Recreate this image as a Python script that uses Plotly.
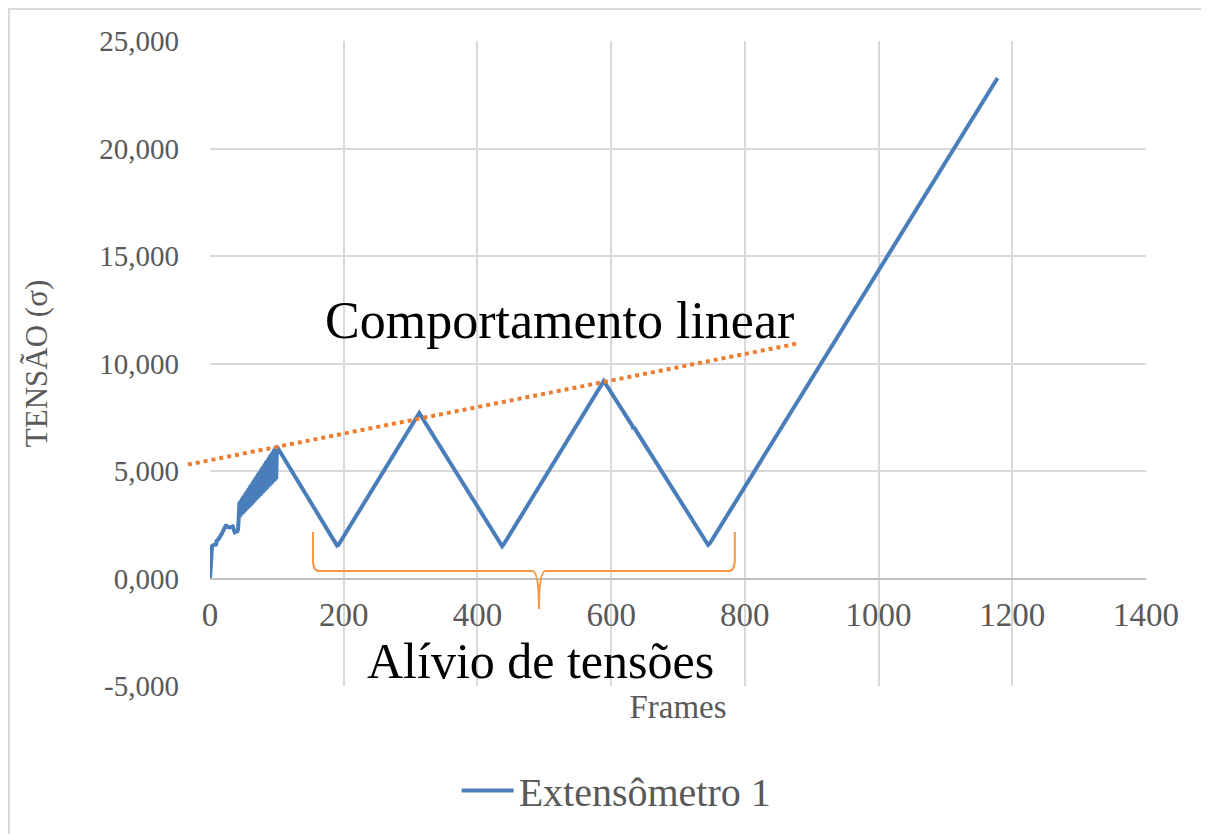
import plotly.graph_objects as go

# ---------------- data ----------------
frames = [0, 3, 5, 9, 10, 12, 18, 24, 26, 30, 34, 37, 41, 42, 43,
          44, 45, 46, 47, 48, 49, 50, 51, 52, 53, 54, 55, 56, 57, 58, 59,
          60, 61, 62, 63, 64, 65, 66, 67, 68, 69, 70, 71, 72, 73, 74, 75,
          76, 77, 78, 79, 80, 81, 82, 83, 84, 85, 86, 87, 88, 89, 90, 91,
          92, 93, 94, 95, 96, 97, 98, 99, 100,
          190, 192, 313, 437, 440, 589, 632, 633, 634, 745, 748, 1178]
tensao = [0.00, 1.50, 1.55, 1.58, 1.75, 1.80, 2.10, 2.50, 2.40, 2.38, 2.42, 2.15, 2.20, 2.30, 2.84,
          3.56, 2.87, 3.65, 2.94, 3.75, 3.00, 3.84, 3.07, 3.94, 3.13, 4.03, 3.20, 4.13, 3.26, 4.22, 3.32,
          4.32, 3.39, 4.41, 3.45, 4.51, 3.52, 4.60, 3.58, 4.70, 3.65, 4.79, 3.71, 4.89, 3.78, 4.98, 3.84,
          5.08, 3.91, 5.17, 3.97, 5.27, 4.04, 5.36, 4.10, 5.46, 4.16, 5.55, 4.23, 5.65, 4.29, 5.74, 4.36,
          5.84, 4.42, 5.93, 4.49, 6.03, 4.55, 6.12, 4.62, 6.14,
          1.53, 1.56, 7.70, 1.50, 1.62, 9.19, 7.09, 6.95, 7.04, 1.56, 1.65, 23.28]

# linear trend ("Comportamento linear")
trend_x = [-33, 882]
trend_y = [5.30, 10.95]

y_tick_vals = [-5, 0, 5, 10, 15, 20, 25]
y_tick_text = ["-5,000", "0,000", "5,000", "10,000", "15,000", "20,000", "25,000"]

series_name = "Extensômetro 1"

# ---------------- figure ----------------
W, H = 1209, 834
ML, MR, MT, MB = 172, 71, 33, 156
plot_w = W - ML - MR
plot_h = H - MT - MB
x_dom0 = 30 / plot_w
x_range = [0, 1400]
x2_left = x_range[0] - (x_range[1] - x_range[0]) * x_dom0 / (1 - x_dom0)
y_range = [-5, 25]

FONT = "Liberation Serif"
GRID = "#d9d9d9"
TXT = "#595959"

fig = go.Figure()
fig.add_trace(go.Scatter(x=frames, y=tensao, mode="lines", name=series_name,
                         line=dict(color="#4a7ebb", width=4),
                         xaxis="x", yaxis="y"))
fig.add_trace(go.Scatter(x=trend_x, y=trend_y, mode="lines", showlegend=False,
                         line=dict(color="#ED7D31", width=4, dash="dot"),
                         xaxis="x2", yaxis="y2"))

fig.update_layout(
    width=W, height=H,
    margin=dict(l=ML, r=MR, t=MT, b=MB, autoexpand=False),
    paper_bgcolor="white", plot_bgcolor="rgba(0,0,0,0)",
    font=dict(family=FONT, color=TXT),
    showlegend=True,
    legend=dict(orientation="h", x=0.452, xanchor="center", y=-0.162, yanchor="middle",
                itemwidth=52,
                font=dict(size=40, color=TXT, family=FONT), bgcolor="rgba(0,0,0,0)"),
    xaxis=dict(domain=[x_dom0, 1], range=x_range, dtick=200, anchor="free",
               position=(0 - y_range[0]) / (y_range[1] - y_range[0]),
               showgrid=True, gridcolor=GRID, gridwidth=1.5, zeroline=False,
               showline=True, linecolor="#bfbfbf", linewidth=1.5,
               ticks="", ticklabelstandoff=7,
               tickfont=dict(size=33, color=TXT, family=FONT),
               title=dict(text="Frames", font=dict(size=33, color=TXT, family=FONT), standoff=62)),
    yaxis=dict(domain=[0, 1], range=y_range, anchor="x",
               tickvals=y_tick_vals, ticktext=y_tick_text,
               showgrid=True, gridcolor=GRID, gridwidth=1.5, zeroline=False,
               showline=False, ticks="", ticklabelstandoff=30,
               tickfont=dict(size=29, color=TXT, family=FONT),
               title=dict(text="TENSÃO (σ)", font=dict(size=31, color=TXT, family=FONT), standoff=42)),
    xaxis2=dict(domain=[0, 1], range=[x2_left, x_range[1]], anchor="y2", visible=False),
    yaxis2=dict(domain=[0, 1], range=y_range, anchor="x2", visible=False),
)

# brace below the relief cycles ("Alívio de tensões")
brace = ("M 154,2.16 L 154,0.9 Q 154,0.35 163,0.35 L 482,0.35 Q 492,0.35 492,-1.42 "
         "Q 492,0.35 502,0.35 L 776,0.35 Q 785,0.35 785,0.9 L 785,2.16")
fig.add_shape(type="path", path=brace, xref="x", yref="y",
              line=dict(color="#F79646", width=2))

# outer chart border (left and top edges visible)
fig.add_shape(type="rect", xref="paper", yref="paper",
              x0=(1 - ML) / plot_w, x1=1.2, y0=-0.5, y1=(plot_h + MT - 1) / plot_h,
              line=dict(color=GRID, width=2), fillcolor="rgba(0,0,0,0)", layer="below")

fig.add_annotation(text="Comportamento linear", x=523, y=12.0, xref="x", yref="y",
                   showarrow=False, font=dict(size=52, color="black", family=FONT))
fig.add_annotation(text="Alívio de tensões", x=494, y=-3.85, xref="x", yref="y",
                   showarrow=False, borderpad=0,
                   font=dict(size=50, color="black", family=FONT))

fig.write_html("out.html")
